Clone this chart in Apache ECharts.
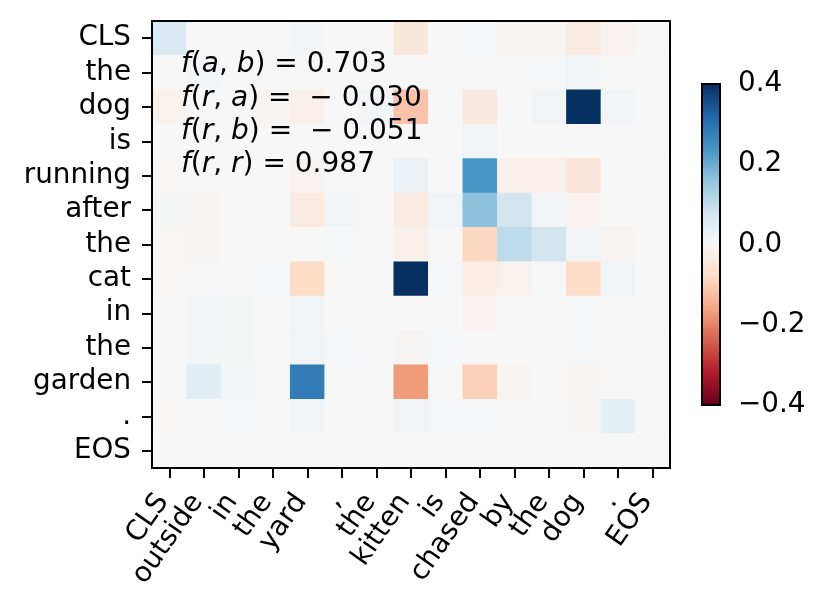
<!DOCTYPE html>
<html>
<head>
    <meta charset="UTF-8">
    <title>heatmap</title>
    <script src="https://cdn.jsdelivr.net/npm/echarts@6/dist/echarts.min.js"></script>
    <style>
        html, body { margin: 0; padding: 0; background: #fff; }
        #main { width: 829px; height: 613px; }
    </style>
</head>
<body>
<div id="main"></div>
<script type="text/javascript">
    // row tokens (top to bottom) and column tokens (left to right)
    var rowTokens = ['CLS', 'the', 'dog', 'is', 'running', 'after', 'the', 'cat', 'in', 'the', 'garden', '.', 'EOS'];
    var colTokens = ['CLS', 'outside', 'in', 'the', 'yard', ',', 'the', 'kitten', 'is', 'chased', 'by', 'the', 'dog', '.', 'EOS'];

    // one array per row
    var rowCLS     = [0.06, 0, 0, 0, 0.008, 0, 0, -0.045, 0, 0.005, -0.01, -0.01, -0.035, -0.012, 0];
    var rowThe1    = [0, 0.008, 0, 0, 0, 0, 0, 0, 0, 0, 0, 0.004, 0.012, 0, 0];
    var rowDog     = [-0.015, 0, 0, -0.005, -0.02, 0, 0.01, -0.115, 0, -0.04, 0, 0.012, 0.42, 0.01, 0];
    var rowIs      = [0, 0, 0, 0, 0, 0, 0, 0, 0, 0.015, 0, 0, 0, 0, 0];
    var rowRunning = [-0.003, 0, 0, 0, -0.012, 0, 0, 0.025, 0, 0.235, -0.02, -0.02, -0.05, 0, 0];
    var rowAfter   = [0.006, -0.006, 0, 0.003, -0.035, 0.01, 0, -0.035, 0.012, 0.165, 0.075, 0.015, -0.012, 0, 0];
    var rowThe2    = [-0.004, -0.005, 0, 0, 0, 0.005, 0, -0.02, 0, -0.085, 0.105, 0.075, 0.015, -0.006, 0];
    var rowCat     = [-0.004, 0, 0, 0.004, -0.078, 0, 0, 0.42, 0.005, -0.03, -0.015, 0, -0.078, 0.012, 0];
    var rowIn      = [0, 0.008, 0.006, 0, 0.015, 0, 0, 0, 0, -0.012, 0, 0, 0.004, 0, 0];
    var rowThe3    = [0, 0.008, 0.006, 0, 0.012, 0.005, 0, -0.005, 0.005, 0, 0, 0, 0.004, 0, 0];
    var rowGarden  = [0, 0.045, 0.01, 0, 0.28, 0, 0, -0.17, 0, -0.095, -0.008, 0, -0.01, 0, 0];
    var rowDot     = [-0.004, 0, 0.004, 0, 0.012, 0, 0, 0.012, 0.005, 0.005, 0, 0, -0.006, 0.035, 0];
    var rowEOS     = [0, 0, 0, 0, 0, 0, 0, 0, 0, 0, 0, 0, 0, 0, 0];

    var rows = [rowCLS, rowThe1, rowDog, rowIs, rowRunning, rowAfter, rowThe2, rowCat,
                rowIn, rowThe3, rowGarden, rowDot, rowEOS];

    // colour bar range and step
    var barMin = -0.4, barMax = 0.4, barStep = 0.2;

    // annotation lines
    var noteLines = [
        '{i|f}({i|a}, {i|b}) = 0.703',
        '{i|f}({i|r}, {i|a}) =  \u2212 0.030',
        '{i|f}({i|r}, {i|b}) =  \u2212 0.051',
        '{i|f}({i|r}, {i|r}) = 0.987'
    ];

    // RdBu
    var rdbu = ['#67001f', '#b2182b', '#d6604d', '#f4a582', '#fddbc7', '#f7f7f7',
                '#d1e5f0', '#92c5de', '#4393c3', '#2166ac', '#053061'];

    var cells = [];
    rows.forEach(function (r, y) {
        r.forEach(function (v, x) {
            cells.push([x, y, v]);
        });
    });

    var FONT = 'DejaVu Sans';
    var FS = 27.8;

    var myChart = echarts.init(document.getElementById('main'));

    var notes = noteLines.map(function (t, k) {
        return {
            type: 'text',
            left: 181,
            top: 51 + k * 33.3,
            z: 10,
            style: {
                text: t,
                fontFamily: FONT,
                fontSize: 28,
                fill: '#000',
                rich: {
                    i: { fontFamily: FONT, fontSize: 28, fontStyle: 'italic', fill: '#000' }
                }
            }
        };
    });

    var tickStyle = { show: true, alignWithLabel: true, length: 10, lineStyle: { color: '#000', width: 2 } };

    var option = {
        backgroundColor: '#fff',
        animation: false,
        textStyle: { fontFamily: FONT },
        grid: [
            { left: 152, top: 21, width: 518, height: 447, show: true, borderColor: '#000', borderWidth: 2, z: 5 },
            { left: 702, top: 84, width: 18, height: 321, show: true, borderColor: '#000', borderWidth: 2, z: 5 }
        ],
        xAxis: [
            {
                type: 'category', gridIndex: 0, data: colTokens,
                axisLine: { show: true, lineStyle: { color: '#000', width: 2 } },
                axisTick: tickStyle,
                axisLabel: { rotate: 55, margin: 20, padding: [0, 11, 0, 0], color: '#000', fontSize: FS, fontFamily: FONT, interval: 0 },
                splitLine: { show: false }
            },
            { type: 'value', gridIndex: 1, show: false, min: 0, max: 1 }
        ],
        yAxis: [
            {
                type: 'category', gridIndex: 0, data: rowTokens, inverse: true,
                axisLine: { show: true, lineStyle: { color: '#000', width: 2 } },
                axisTick: tickStyle,
                axisLabel: { margin: 21, color: '#000', fontSize: FS, fontFamily: FONT, interval: 0 },
                splitLine: { show: false }
            },
            {
                type: 'value', gridIndex: 1, position: 'right', min: barMin, max: barMax, interval: barStep,
                axisLine: { show: true, lineStyle: { color: '#000', width: 2 } },
                axisTick: { show: true, length: 10, lineStyle: { color: '#000', width: 2 } },
                axisLabel: {
                    show: true, margin: 18, color: '#000', fontSize: FS, fontFamily: FONT,
                    formatter: function (v) {
                        if (Math.abs(v) < 1e-9) return '0.0';
                        return (v < 0 ? '\u2212' : '') + Math.abs(v).toFixed(1);
                    }
                },
                splitLine: { show: false }
            }
        ],
        visualMap: {
            type: 'continuous',
            seriesIndex: 0,
            min: barMin,
            max: barMax,
            calculable: false,
            hoverLink: false,
            orient: 'vertical',
            left: 702,
            top: 84,
            padding: 0,
            itemWidth: 18,
            itemHeight: 321,
            text: null,
            showLabel: false,
            inRange: { color: rdbu }
        },
        series: [
            {
                type: 'heatmap',
                xAxisIndex: 0,
                yAxisIndex: 0,
                data: cells,
                itemStyle: { borderWidth: 0 },
                emphasis: { disabled: true }
            }
        ],
        graphic: notes
    };
    myChart.setOption(option);
</script>
</body>
</html>
